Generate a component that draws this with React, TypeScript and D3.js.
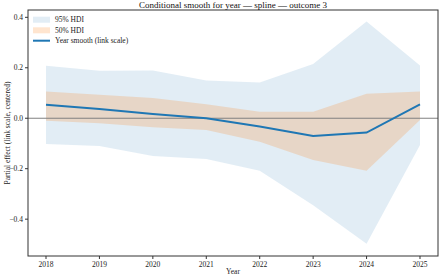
import React from 'react';
import * as d3 from 'd3';

const years = [2018, 2019, 2020, 2021, 2022, 2023, 2024, 2025];
const smooth = [0.053, 0.037, 0.017, 0.0, -0.033, -0.07, -0.057, 0.055];
const lo50 = [-0.01, -0.02, -0.036, -0.047, -0.093, -0.166, -0.208, -0.007];
const hi50 = [0.106, 0.093, 0.08, 0.055, 0.026, 0.026, 0.097, 0.106];
const lo95 = [-0.102, -0.11, -0.15, -0.162, -0.208, -0.345, -0.497, -0.106];
const hi95 = [0.208, 0.188, 0.189, 0.15, 0.142, 0.215, 0.383, 0.209];
const yTicks = [-0.4, -0.2, 0.0, 0.2, 0.4];
const legendLabels = ['95% HDI', '50% HDI', 'Year smooth (link scale)'];

const W = 439;
const H = 277;
const margin = { top: 10, right: 1, bottom: 21, left: 28 };
const font = '"Liberation Serif", "DejaVu Serif", serif';

const App: React.FC = () => {
  const x = d3
    .scaleLinear()
    .domain([2017.663, 2025.337])
    .range([margin.left, W - margin.right]);
  const y = d3
    .scaleLinear()
    .domain([-0.546, 0.429])
    .range([H - margin.bottom, margin.top]);

  const rows = years.map((yr, i) => ({
    yr,
    m: smooth[i],
    l5: lo50[i],
    h5: hi50[i],
    l9: lo95[i],
    h9: hi95[i],
  }));

  const band95 = d3
    .area<(typeof rows)[number]>()
    .x((d) => x(d.yr))
    .y0((d) => y(d.l9))
    .y1((d) => y(d.h9));
  const band50 = d3
    .area<(typeof rows)[number]>()
    .x((d) => x(d.yr))
    .y0((d) => y(d.l5))
    .y1((d) => y(d.h5));
  const line = d3
    .line<(typeof rows)[number]>()
    .x((d) => x(d.yr))
    .y((d) => y(d.m));

  const x0 = margin.left;
  const x1 = W - margin.right;
  const y0 = H - margin.bottom;
  const y1 = margin.top;

  return (
    <svg
      width={W}
      height={H}
      style={{ position: 'absolute', left: 0, top: 0, fontFamily: font }}
    >
      <rect width={W} height={H} fill="#fff" />
      <path d={band95(rows) ?? ''} fill="#1f77b4" fillOpacity={0.13} />
      <path d={band50(rows) ?? ''} fill="#ff7f0e" fillOpacity={0.2} />
      <line x1={x0} x2={x1} y1={y(0)} y2={y(0)} stroke="#808080" strokeWidth={1} />
      <path d={line(rows) ?? ''} fill="none" stroke="#1f77b4" strokeWidth={2} />

      {/* frame */}
      <rect x={x0} y={y1} width={x1 - x0} height={y0 - y1} fill="none" stroke="#333" strokeWidth={1} />

      {/* y axis */}
      {yTicks.map((t) => (
        <g key={t} transform={`translate(${x0},${y(t)})`}>
          <line x1={-3} x2={0} stroke="#333" />
          <text x={-5} dy="0.32em" textAnchor="end" fontSize={7.5} fill="#222">
            {d3.format('.1f')(t).replace('-', '\u2212')}
          </text>
        </g>
      ))}

      {/* x axis */}
      {years.map((yr) => (
        <g key={yr} transform={`translate(${x(yr)},${y0})`}>
          <line y1={0} y2={3} stroke="#333" />
          <text y={10.5} textAnchor="middle" fontSize={7.5} fill="#222">
            {yr}
          </text>
        </g>
      ))}

      <text x={(x0 + x1) / 2} y={273.5} textAnchor="middle" fontSize={7.5} fill="#222">
        Year
      </text>
      <text
        transform={`translate(10,${(y0 + y1) / 2}) rotate(-90)`}
        textAnchor="middle"
        fontSize={7.5}
        fill="#222"
      >
        Partial effect (link scale, centered)
      </text>
      <text x={(x0 + x1) / 2} y={8} textAnchor="middle" fontSize={9} fill="#111">
        Conditional smooth for year — spline — outcome 3
      </text>

      {/* legend */}
      <g transform={`translate(33,${19.7})`}>
        <rect x={0} y={-3} width={17} height={6} fill="#1f77b4" fillOpacity={0.13} />
        <rect x={0} y={7.6} width={17} height={6} fill="#ff7f0e" fillOpacity={0.2} />
        <line x1={0} x2={17} y1={21} y2={21} stroke="#1f77b4" strokeWidth={2} />
        {legendLabels.map((s, i) => (
          <text key={s} x={22} y={i * 10.6} dy="0.32em" fontSize={7.5} fill="#222">
            {s}
          </text>
        ))}
      </g>
    </svg>
  );
};

export default App;
